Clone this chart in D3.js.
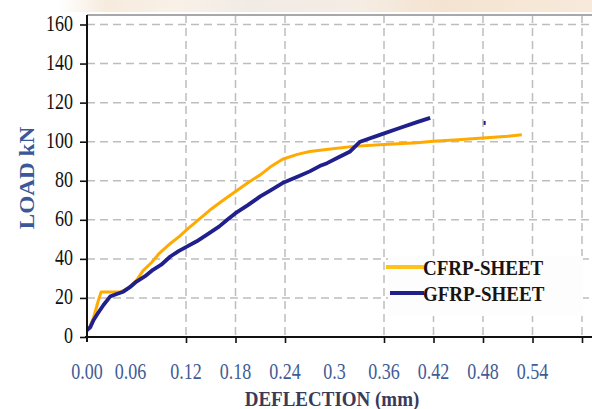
<!DOCTYPE html>
<html>
<head>
<meta charset="utf-8">
<script src="https://cdn.jsdelivr.net/npm/d3@7"></script>
<style>
	html, body { margin:0; padding:0; background:#fff; }
	svg { display:block; }
	text { font-family:"Liberation Serif", "DejaVu Serif", serif; }
</style>
</head>
<body>
<svg id="chart" width="592" height="409"></svg>
<script>
// values
var cfrp = [
	[0.000, 3], [0.003, 5], [0.008, 10], [0.012, 16], [0.014, 19], [0.017, 23],
	[0.025, 23], [0.040, 23], [0.050, 25], [0.060, 29], [0.068, 34], [0.078, 38],
	[0.088, 43], [0.100, 47.5], [0.112, 51.5], [0.121, 55], [0.135, 60], [0.149, 65],
	[0.165, 70], [0.180, 74.5], [0.195, 79], [0.210, 83], [0.222, 87], [0.237, 91],
	[0.255, 93.5], [0.270, 95], [0.290, 96], [0.323, 97.6], [0.360, 98.5], [0.400, 99.5],
	[0.420, 100.2], [0.450, 101], [0.480, 101.9], [0.510, 102.8], [0.527, 103.6]
];
var gfrp = [
	[0.000, 3.6], [0.004, 5], [0.008, 8.7], [0.013, 12], [0.020, 16.4], [0.028, 20.7],
	[0.036, 22], [0.044, 23.2], [0.052, 25.5], [0.060, 28.4], [0.070, 31], [0.080, 34.4],
	[0.090, 37], [0.101, 41.2], [0.111, 44], [0.121, 46.3], [0.133, 49], [0.145, 52.3],
	[0.160, 56.5], [0.170, 60], [0.180, 63.4], [0.195, 67.5], [0.210, 72], [0.222, 75],
	[0.237, 78.8], [0.255, 82], [0.270, 84.8], [0.282, 87.5], [0.291, 89], [0.305, 92],
	[0.319, 95], [0.331, 100], [0.355, 103.5], [0.379, 107], [0.400, 110], [0.416, 112.2]
];
var gfrpStray = [[0.482, 109.6]];

var yTicks = [0, 20, 40, 60, 80, 100, 120, 140, 160];
var xGridTicks = [0.12, 0.18, 0.24, 0.36, 0.42, 0.48, 0.54, 0.60]; // original has no 0.06 / 0.3 gridline
var xLabels = ["0.00", "0.06", "0.12", "0.18", "0.24", "0.3", "0.36", "0.42", "0.48", "0.54"];
var xLabelValues = [0, 0.06, 0.12, 0.18, 0.24, 0.30, 0.36, 0.42, 0.48, 0.54];
var seriesNames = ["CFRP-SHEET", "GFRP-SHEET"];
var seriesColors = ["#ffaa00", "#20208c"];

var W = 592, H = 409;
var left = 87, right = 592, top0 = 15, bottom = 337;

var svg = d3.select("#chart");
var x = d3.scaleLinear().domain([0, 0.6]).range([left, 582]);
var y = d3.scaleLinear().domain([0, 160]).range([bottom, 24.5]);

// faint bleed of the page background at the very top
var defs = svg.append("defs");
var grad = defs.append("linearGradient").attr("id", "bleed");
[["0%", "#ffffff"], ["10%", "#ffffff"], ["18%", "#f6ebdd"], ["30%", "#f9f1e8"], ["42%", "#f1ebe6"],
 ["60%", "#f5ede4"], ["75%", "#f4e3d0"], ["100%", "#f7eadb"]].forEach(function(s){
	grad.append("stop").attr("offset", s[0]).attr("stop-color", s[1]);
});
svg.append("rect").attr("x", 0).attr("y", 0).attr("width", W).attr("height", 12).attr("fill", "url(#bleed)");

// grid
var grid = svg.append("g").attr("class", "grid")
	.attr("stroke", "#bdbdbd").attr("stroke-width", 1.5).attr("stroke-dasharray", "8,5");
grid.selectAll("line.h").data(yTicks.slice(1)).enter().append("line")
	.attr("x1", left).attr("x2", right)
	.attr("y1", function(d){ return y(d); }).attr("y2", function(d){ return y(d); });
grid.selectAll("line.v").data(xGridTicks).enter().append("line")
	.attr("y1", top0).attr("y2", bottom)
	.attr("x1", function(d){ return x(d); }).attr("x2", function(d){ return x(d); });

// top frame line
svg.append("line").attr("x1", left).attr("x2", right).attr("y1", top0).attr("y2", top0)
	.attr("stroke", "#a8a8a8").attr("stroke-width", 2);

// series lines
var line = d3.line().x(function(d){ return x(d[0]); }).y(function(d){ return y(d[1]); });
svg.append("path").datum(cfrp).attr("d", line).attr("fill", "none")
	.attr("stroke", seriesColors[0]).attr("stroke-width", 3).attr("stroke-linejoin", "round");
svg.append("path").datum(gfrp).attr("d", line).attr("fill", "none")
	.attr("stroke", seriesColors[1]).attr("stroke-width", 3.8).attr("stroke-linejoin", "round");
svg.selectAll("rect.stray").data(gfrpStray).enter().append("rect")
	.attr("x", function(d){ return x(d[0]) - 1; }).attr("y", function(d){ return y(d[1]) - 2; })
	.attr("width", 2).attr("height", 4).attr("fill", seriesColors[1]);

// legend box (covers grid)
var legend = svg.append("g").attr("class", "legend");
legend.append("rect").attr("x", 388).attr("y", 256).attr("width", 195).attr("height", 60).attr("fill", "#fdfdfd");
seriesNames.forEach(function(name, i){
	var ly = 267 + i * 26;
	legend.append("line").attr("x1", 386 + i * 4).attr("x2", 424).attr("y1", ly).attr("y2", ly)
		.attr("stroke", i === 0 ? "#ffc21a" : seriesColors[1]).attr("stroke-width", 4);
	legend.append("g").attr("transform", "translate(423," + (ly + 8) + ") scale(1,1.08)")
		.append("text").attr("font-size", 19).attr("font-weight", "bold").attr("fill", "#1a1410")
		.text(name);
});

// axes
var yAxis = d3.axisLeft(y).tickValues(yTicks).tickSize(7).tickFormat("");
var gy = svg.append("g").attr("transform", "translate(" + left + ",0)").call(yAxis);
gy.select(".domain").remove();
gy.selectAll(".tick line").attr("stroke", "#111").attr("stroke-width", 1.6);
svg.append("line").attr("x1", left).attr("x2", left).attr("y1", top0).attr("y2", bottom + 5)
	.attr("stroke", "#111").attr("stroke-width", 2);

var xAxis = d3.axisBottom(x).tickValues(xGridTicks).tickSize(6).tickFormat("");
var gx = svg.append("g").attr("transform", "translate(0," + bottom + ")").call(xAxis);
gx.select(".domain").remove();
gx.selectAll(".tick line").attr("stroke", "#111").attr("stroke-width", 1.6);
svg.append("line").attr("x1", left - 2).attr("x2", right).attr("y1", bottom).attr("y2", bottom)
	.attr("stroke", "#111").attr("stroke-width", 2);

// y tick labels (picture is a little stretched vertically)
svg.append("g").selectAll("g").data(yTicks).enter().append("g")
	.attr("transform", function(d){ return "translate(73," + (y(d) + 6) + ") scale(1,1.25)"; })
	.append("text").attr("text-anchor", "end").attr("font-size", 18).attr("fill", "#111")
	.text(function(d){ return d; });

// x tick labels
svg.append("g").selectAll("g").data(xLabelValues).enter().append("g")
	.attr("transform", function(d, i){
		var dx = i === 1 ? -6 : 0;
		return "translate(" + (x(d) + dx) + ",379) scale(1,1.25)";
	})
	.append("text").attr("text-anchor", "middle").attr("font-size", 18).attr("fill", "#3f5c96")
	.text(function(d, i){ return xLabels[i]; });

// axis titles
svg.append("g").attr("transform", "translate(34,178) rotate(-90) scale(1.22,1.05)")
	.append("text").attr("text-anchor", "middle").attr("font-size", 19).attr("font-weight", "bold")
	.attr("fill", "#3b5898").text("LOAD kN");
svg.append("g").attr("transform", "translate(332,406) scale(1,1.15)")
	.append("text").attr("text-anchor", "middle").attr("font-size", 19).attr("font-weight", "bold")
	.attr("fill", "#3a3a58").text("DEFLECTION  (mm)");
</script>
</body>
</html>
